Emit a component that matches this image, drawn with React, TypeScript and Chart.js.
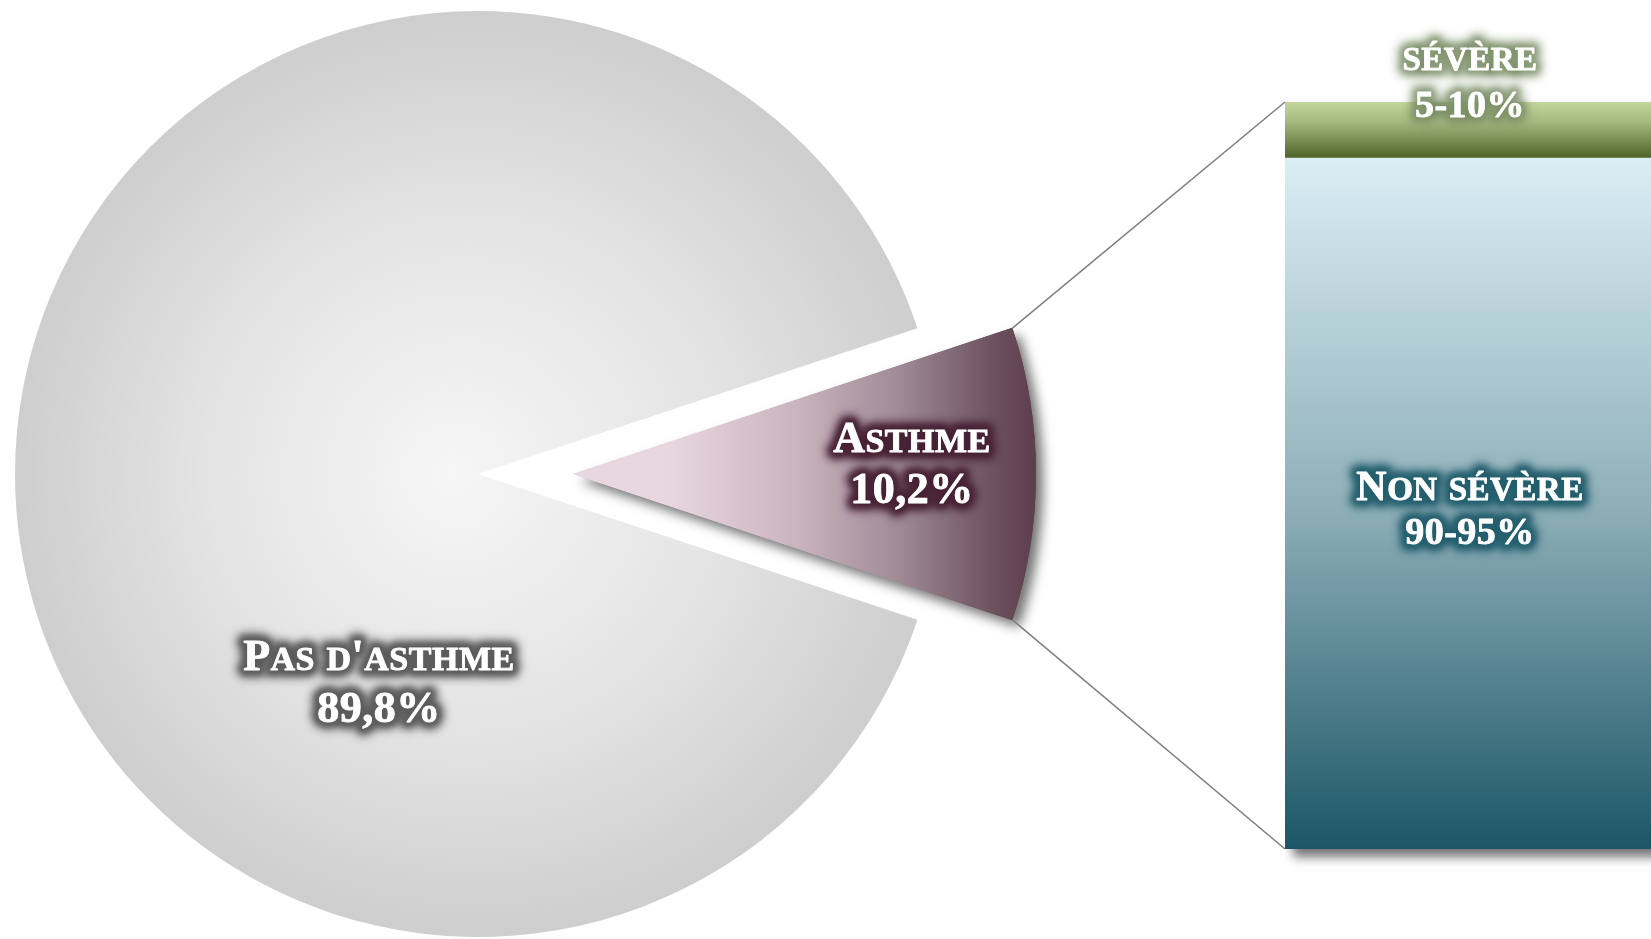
import React, { useEffect, useRef } from 'react';
import { Chart, registerables } from 'chart.js';

Chart.register(...registerables);

// ---- data ----
const pieCategories = ['Asthme', "Pas d'asthme"];
const pieValues = [10.2, 89.8];
const barCategories = ['Non sévère', 'sévère'];
const barValues = [92.5, 7.5];
const barRangeLabels = ['90-95%', '5-10%'];

// ---- layout / style ----
const W = 1651;
const H = 939;
const PIE_CX = 478;
const PIE_CY = 474;
const PIE_RADIUS = 463;
const EXPLODE = 95; // px the Asthme slice is pulled out
const BAR_LEFT = 1285;
const BAR_W = 370;
const BAR_TOP = 102;
const BAR_BOTTOM = 849;
const FONT = '"Liberation Serif", "Times New Roman", serif';

const fmtPct = (v: number) => String(v).replace('.', ',') + '%';
const ok = (...n: number[]) => n.every((v) => Number.isFinite(v));

function drawGlowLine(
  ctx: CanvasRenderingContext2D,
  text: string,
  cx: number,
  baseline: number,
  size: number,
  glow: string
) {
  const small = Math.round(size * 0.78);
  const runs: { text: string; size: number; w: number }[] = [];
  for (const ch of text) {
    const isLower = ch !== ch.toUpperCase();
    const s = isLower ? small : size;
    const c = isLower ? ch.toUpperCase() : ch;
    const last = runs[runs.length - 1];
    if (last && last.size === s) last.text += c;
    else runs.push({ text: c, size: s, w: 0 });
  }
  ctx.save();
  (ctx as any).letterSpacing = '0.5px';
  let total = 0;
  for (const r of runs) {
    ctx.font = `bold ${r.size}px ${FONT}`;
    r.w = ctx.measureText(r.text).width;
    total += r.w;
  }
  const x0 = cx - total / 2;
  const each = (fn: (t: string, x: number) => void) => {
    let x = x0;
    for (const r of runs) {
      ctx.font = `bold ${r.size}px ${FONT}`;
      fn(r.text, x);
      x += r.w;
    }
  };
  ctx.textAlign = 'left';
  ctx.textBaseline = 'alphabetic';
  ctx.strokeStyle = glow;
  ctx.fillStyle = glow;
  ctx.lineJoin = 'round';
  ctx.filter = 'blur(5px)';
  ctx.lineWidth = 15;
  each((t, x) => {
    ctx.strokeText(t, x, baseline);
  });
  ctx.filter = 'blur(3px)';
  ctx.lineWidth = 8;
  each((t, x) => {
    ctx.strokeText(t, x, baseline);
    ctx.fillText(t, x, baseline);
  });
  ctx.filter = 'none';
  ctx.fillStyle = '#ffffff';
  ctx.strokeStyle = '#ffffff';
  ctx.lineWidth = 0.9;
  each((t, x) => {
    ctx.fillText(t, x, baseline);
    ctx.strokeText(t, x, baseline);
  });
  ctx.restore();
}

export default function App() {
  const pieRef = useRef<HTMLCanvasElement>(null);
  const barRef = useRef<HTMLCanvasElement>(null);

  useEffect(() => {
    if (!pieRef.current || !barRef.current) return;

    // ---------- bar (breakdown of asthma) ----------
    const barGradient = (ctxArg: any) => {
      const chart = ctxArg.chart;
      const y = chart.scales && chart.scales.y;
      const di = ctxArg.datasetIndex;
      const fallback = di === 0 ? '#7ba2ad' : '#8aa060';
      if (!y) return fallback;
      let lo = 0;
      for (let i = 0; i < di; i++) lo += barValues[i];
      const hi = lo + barValues[di];
      const top = y.getPixelForValue(hi);
      const bot = y.getPixelForValue(lo);
      if (!ok(top, bot) || top === bot) return fallback;
      const g = chart.ctx.createLinearGradient(0, top, 0, bot);
      if (di === 0) {
        g.addColorStop(0, '#dbeef4');
        g.addColorStop(0.5, '#8fb0b9');
        g.addColorStop(1, '#1c5666');
      } else {
        g.addColorStop(0, '#c3d69b');
        g.addColorStop(0.35, '#a6b97f');
        g.addColorStop(1, '#4f6228');
      }
      return g;
    };

    const barShadowPlugin = {
      id: 'barShadow',
      beforeDatasetsDraw(chart: any) {
        const m0 = chart.getDatasetMeta(0).data[0];
        const m1 = chart.getDatasetMeta(1).data[0];
        if (!m0 || !m1) return;
        const ctx = chart.ctx;
        ctx.save();
        ctx.shadowColor = 'rgba(0,0,0,0.55)';
        ctx.shadowBlur = 10;
        ctx.shadowOffsetX = 8;
        ctx.shadowOffsetY = 8;
        ctx.fillStyle = '#1c5666';
        ctx.fillRect(m0.x - m0.width / 2, m1.y, m0.width, m0.base - m1.y);
        ctx.restore();
      },
    };

    const barLabelPlugin = {
      id: 'barLabels',
      afterDatasetsDraw(chart: any) {
        const ctx = chart.ctx;
        const e0 = chart.getDatasetMeta(0).data[0];
        const e1 = chart.getDatasetMeta(1).data[0];
        if (!e0 || !e1) return;
        const cx = (chart.chartArea.left + chart.chartArea.right) / 2;
        const c0 = (e0.y + e0.base) / 2;
        const teal = 'rgba(36,94,110,0.92)';
        const green = 'rgba(120,140,100,0.6)';
        drawGlowLine(ctx, barCategories[0], cx, c0 - 4, 42, teal);
        drawGlowLine(ctx, barRangeLabels[0], cx, c0 + 40, 38, teal);
        drawGlowLine(ctx, barCategories[1], cx, e1.y - 32, 42, green);
        drawGlowLine(ctx, barRangeLabels[1], cx, e1.y + 15, 38, green);
      },
    };

    const barChart = new Chart(barRef.current, {
      type: 'bar',
      data: {
        labels: ['Asthme'],
        datasets: barCategories.map((name, i) => ({
          label: name,
          data: [barValues[i]],
          backgroundColor: barGradient,
          borderWidth: 0,
          barPercentage: 1,
          categoryPercentage: 1,
        })),
      },
      options: {
        responsive: false,
        animation: false,
        layout: { padding: { top: BAR_TOP, bottom: H - BAR_BOTTOM, left: 0, right: 0 } },
        scales: {
          x: { display: false, stacked: true },
          y: { display: false, stacked: true, min: 0, max: 100 },
        },
        plugins: { legend: { display: false }, tooltip: { enabled: false } },
      },
      plugins: [barShadowPlugin, barLabelPlugin],
    });

    // ---------- pie ----------
    const total = pieValues.reduce((a, b) => a + b, 0);
    const rotation = 90 - (pieValues[0] / total) * 180;
    // Chart.js arcs translate by offset/4, grow by (offset/4)*(1-sin(circ)),
    // and lose (offset*fix)/(PI*R) of angle; compensate so the pulled-out
    // slice keeps the pie's radius and its true 10,2 % angle.
    const radiusFix = (circ: number) => 1 - Math.sin(Math.min(Math.PI, circ || 0));

    const pieColor = (ctxArg: any) => {
      const chart = ctxArg.chart;
      const ca = chart.chartArea;
      const fallback = ctxArg.dataIndex === 0 ? '#8f7682' : '#e0e0e0';
      if (!ca) return fallback;
      const cx = (ca.left + ca.right) / 2;
      const cy = (ca.top + ca.bottom) / 2;
      if (!ok(cx, cy)) return fallback;
      if (ctxArg.dataIndex === 0) {
        const g = chart.ctx.createLinearGradient(cx + EXPLODE, 0, cx + EXPLODE + PIE_RADIUS, 0);
        g.addColorStop(0, '#e8d7df');
        g.addColorStop(0.28, '#cab4be');
        g.addColorStop(0.5, '#9f8a95');
        g.addColorStop(0.7, '#6d525f');
        g.addColorStop(0.86, '#542f42');
        g.addColorStop(1, '#4a2639');
        return g;
      }
      const g = chart.ctx.createRadialGradient(cx - 25, cy, 0, cx, cy, PIE_RADIUS);
      g.addColorStop(0, '#f6f6f6');
      g.addColorStop(0.55, '#e4e4e4');
      g.addColorStop(1, '#cecece');
      return g;
    };

    const pieFixPlugin = {
      id: 'pieFix',
      afterDatasetUpdate(chart: any) {
        const arc = chart.getDatasetMeta(0).data[0];
        if (!arc) return;
        const roff = EXPLODE * radiusFix(arc.circumference);
        const ao = roff / (Math.PI * PIE_RADIUS) / 2;
        arc.startAngle -= ao;
        arc.endAngle += ao;
        arc.circumference += 2 * ao;
        arc.outerRadius = PIE_RADIUS - EXPLODE * radiusFix(arc.circumference);
      },
    };

    const pieShadowPlugin = {
      id: 'pieShadow',
      beforeDatasetsDraw(chart: any) {
        const arc = chart.getDatasetMeta(0).data[0];
        if (!arc) return;
        const ctx = chart.ctx;
        ctx.save();
        ctx.shadowColor = 'rgba(0,0,0,0.55)';
        ctx.shadowBlur = 12;
        ctx.shadowOffsetX = 7;
        ctx.shadowOffsetY = 7;
        arc.draw(ctx);
        ctx.restore();
      },
    };

    const pieOverlayPlugin = {
      id: 'pieOverlay',
      afterDatasetsDraw(chart: any) {
        const ctx = chart.ctx;
        const arcs = chart.getDatasetMeta(0).data;
        const a = arcs[0];
        if (!a) return;
        const mid = (a.startAngle + a.endAngle) / 2;
        const shift = (a.options.offset || 0) / 4;
        const ox = a.x + Math.cos(mid) * shift;
        const oy = a.y + Math.sin(mid) * shift;
        const R = a.outerRadius + shift * radiusFix(a.circumference);
        const half = (pieValues[0] / total) * Math.PI;

        // connector lines to the bar
        const b0 = barChart.getDatasetMeta(0).data[0] as any;
        const b1 = barChart.getDatasetMeta(1).data[0] as any;
        if (b0 && b1) {
          const bl = BAR_LEFT + b0.x - b0.width / 2;
          ctx.save();
          ctx.strokeStyle = '#808080';
          ctx.lineWidth = 1.6;
          ctx.beginPath();
          ctx.moveTo(ox + Math.cos(mid - half) * R, oy + Math.sin(mid - half) * R);
          ctx.lineTo(bl, b1.y);
          ctx.moveTo(ox + Math.cos(mid + half) * R, oy + Math.sin(mid + half) * R);
          ctx.lineTo(bl, b0.base);
          ctx.stroke();
          ctx.restore();
        }

        // Asthme label
        const ax = ox + Math.cos(mid) * R * 0.732;
        const ay = oy + Math.sin(mid) * R * 0.732;
        const maroon = 'rgba(70,34,52,0.92)';
        drawGlowLine(ctx, pieCategories[0], ax, ay - 22, 44, maroon);
        drawGlowLine(ctx, fmtPct(pieValues[0]), ax, ay + 29, 44, maroon);

        // Pas d'asthme label
        const p = arcs[1];
        const ang = (114.4 * Math.PI) / 180;
        const px = p.x + Math.cos(ang) * R * 0.518;
        const py = p.y + Math.sin(ang) * R * 0.518;
        const grey = 'rgba(92,92,92,0.95)';
        drawGlowLine(ctx, pieCategories[1], px, py - 22, 44, grey);
        drawGlowLine(ctx, fmtPct(pieValues[1]), px, py + 30, 44, grey);
      },
    };

    const pieChart = new Chart(pieRef.current, {
      type: 'pie',
      data: {
        labels: pieCategories,
        datasets: [
          {
            data: pieValues,
            backgroundColor: pieColor,
            borderWidth: 0,
            offset: [EXPLODE * 4, 0],
          } as any,
        ],
      },
      options: {
        responsive: false,
        animation: false,
        rotation,
        radius: PIE_RADIUS,
        layout: { padding: { left: 0, right: W - 2 * PIE_CX, top: 2 * PIE_CY - H, bottom: 0 } },
        plugins: { legend: { display: false }, tooltip: { enabled: false } },
      } as any,
      plugins: [pieFixPlugin, pieShadowPlugin, pieOverlayPlugin],
    });

    return () => {
      pieChart.destroy();
      barChart.destroy();
    };
  }, []);

  return (
    <div
      style={{
        position: 'fixed',
        left: 0,
        top: 0,
        width: W,
        height: H,
        overflow: 'hidden',
        background: '#ffffff',
      }}
    >
      <canvas
        ref={pieRef}
        width={W}
        height={H}
        style={{ position: 'absolute', left: 0, top: 0, width: W, height: H }}
      />
      <canvas
        ref={barRef}
        width={BAR_W}
        height={H}
        style={{ position: 'absolute', left: BAR_LEFT, top: 0, width: BAR_W, height: H }}
      />
    </div>
  );
}
